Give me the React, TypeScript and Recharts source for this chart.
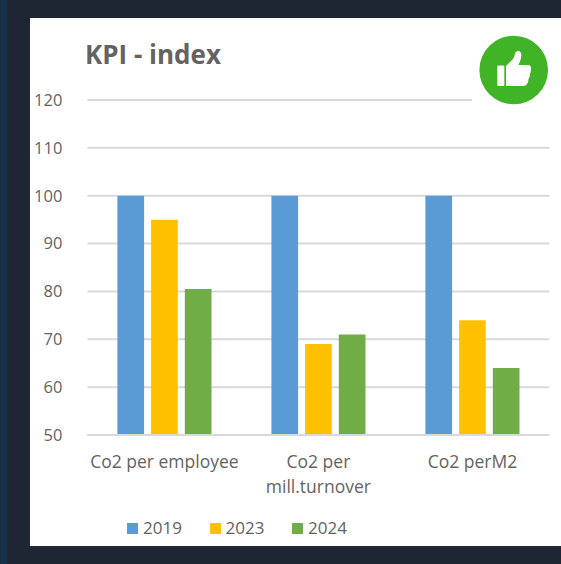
import { BarChart, Bar, XAxis, YAxis, CartesianGrid, Legend } from "recharts";

const categories = ["Co2 per employee", "Co2 per mill.turnover", "Co2 perM2"];
const values2019 = [100, 100, 100];
const values2023 = [95, 69, 74];
const values2024 = [80.5, 71, 64];
const yTicks = [50, 60, 70, 80, 90, 100, 110, 120];

const seriesNames = ["2019", "2023", "2024"];
const COLORS = ["#5b9bd5", "#ffc000", "#70ad47"];

const FONT = "'Open Sans', sans-serif";
const TEXT = "#636363";

const data = categories.map((name, i) => ({
  name,
  "2019": values2019[i],
  "2023": values2023[i],
  "2024": values2024[i],
}));

// the long label breaks in two, as in the original
function CategoryTick({ x, payload }: any) {
  const lines =
    payload.value === "Co2 per mill.turnover"
      ? ["Co2 per", "mill.turnover"]
      : [payload.value];
  return (
    <text x={x} y={468} textAnchor="middle" fontSize={17.5} fontFamily={FONT} fill={TEXT}>
      {lines.map((line: string, i: number) => (
        <tspan key={line} x={x} dy={i === 0 ? 0 : 25}>
          {line}
        </tspan>
      ))}
    </text>
  );
}

function LegendRow() {
  return (
    <div style={{ display: "flex", fontFamily: FONT, fontSize: 17, lineHeight: "22px", color: TEXT }}>
      {seriesNames.map((name, i) => (
        <div key={name} style={{ display: "flex", alignItems: "center", width: 82.5 }}>
          <span style={{ width: 11, height: 11, background: COLORS[i], marginRight: 5 }} />
          {name}
        </div>
      ))}
    </div>
  );
}

function ThumbsUp() {
  return (
    <svg width={561} height={564} style={{ position: "absolute", left: 0, top: 0 }}>
      {/* the badge sits on a white patch that cuts the top gridline */}
      <rect x={472} y={94} width={82} height={12} fill="#ffffff" />
      <circle cx={513.7} cy={70} r={34.3} fill="#41b327" />
      <rect x={497.3} y={65.5} width={7} height={20.5} rx={1} fill="#ffffff" />
      <path
        d="M506 66 L513 59 Q515 56 515 53 Q517 50 520 51.5 Q522.5 54 520.5 60 L518.5 65 L528 65 Q531.5 65.5 531 69 Q531 72 530 74 Q530 77 528.5 79 Q528.5 82 527 84 Q526 86 523 86 L506 86 Z"
        fill="#ffffff"
      />
    </svg>
  );
}

export default function App() {
  return (
    <div
      style={{
        position: "absolute",
        left: 0,
        top: 0,
        width: 561,
        height: 564,
        overflow: "hidden",
        background: "#1e2533",
      }}
    >
      <div style={{ position: "absolute", left: 0, top: 0, width: 7, height: 564, background: "#17304a" }} />
      <div style={{ position: "absolute", left: 30, top: 18, width: 531, height: 528, background: "#ffffff" }} />
      <div
        style={{
          position: "absolute",
          left: 85,
          top: 36,
          fontFamily: FONT,
          fontWeight: 700,
          fontSize: 26,
          lineHeight: "36px",
          color: TEXT,
        }}
      >
        KPI - index
      </div>
      <div style={{ position: "absolute", left: 0, top: 0 }}>
        <BarChart
          width={561}
          height={564}
          data={data}
          margin={{ top: 100, right: 11.6, bottom: 0, left: 0 }}
          barSize={26.7}
          barGap={7}
        >
          <CartesianGrid horizontal vertical={false} stroke="#d9d9d9" strokeWidth={2} />
          <XAxis
            dataKey="name"
            interval={0}
            height={107}
            tickLine={false}
            axisLine={{ stroke: "#d9d9d9", strokeWidth: 2 }}
            tick={<CategoryTick />}
          />
          <YAxis
            width={87.4}
            domain={[50, 120]}
            ticks={yTicks}
            interval={0}
            tickLine={false}
            axisLine={false}
            tickMargin={19}
            tick={{ fontSize: 16.5, fontFamily: FONT, fill: TEXT }}
          />
          {seriesNames.map((name, i) => (
            <Bar key={name} dataKey={name} fill={COLORS[i]} isAnimationActive={false} />
          ))}
          <Legend
            content={<LegendRow />}
            wrapperStyle={{ position: "absolute", left: 127, top: 517, width: 260, bottom: "auto" }}
          />
        </BarChart>
      </div>
      <ThumbsUp />
    </div>
  );
}
